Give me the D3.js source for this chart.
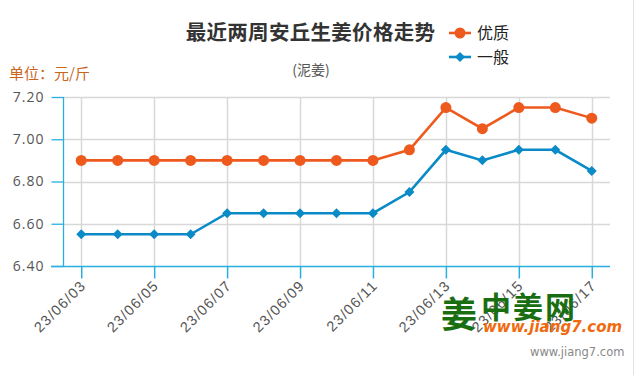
<!DOCTYPE html>
<html><head><meta charset="utf-8">
<script src="https://cdn.jsdelivr.net/npm/d3@7/dist/d3.min.js"></script>
<style>
html,body{margin:0;padding:0;background:#fff;}
svg{display:block;font-family:"Open Sans","Noto Sans CJK SC",sans-serif;}
</style></head>
<body><svg id="c" width="635" height="375"></svg>
<script>
const dates = ["23/06/03","23/06/04","23/06/05","23/06/06","23/06/07","23/06/08","23/06/09","23/06/10","23/06/11","23/06/12","23/06/13","23/06/14","23/06/15","23/06/16","23/06/17"];
const premium = [6.90,6.90,6.90,6.90,6.90,6.90,6.90,6.90,6.90,6.95,7.15,7.05,7.15,7.15,7.10];
const normal = [6.55,6.55,6.55,6.55,6.65,6.65,6.65,6.65,6.65,6.75,6.95,6.90,6.95,6.95,6.85];
const yTicks = [6.40,6.60,6.80,7.00,7.20];
const xTickLabels = ["23/06/03","23/06/05","23/06/07","23/06/09","23/06/11","23/06/13","23/06/15","23/06/17"];
const seriesNames = ["优质","一般"];

const svg = d3.select("#c");
const L = 63, R = 610, T = 97, B = 266;
const orange = "#ee5a1e", blue = "#0a8ac6", axisBlue = "#2aaee0", grid = "#d8d8d8";

const x = d3.scalePoint().domain(dates).range([L, R]).padding(0.5);
const y = d3.scaleLinear().domain([6.40, 7.20]).range([B, T]);

// right page border
svg.append("line").attr("x1",633.5).attr("x2",633.5).attr("y1",0).attr("y2",375).attr("stroke","#e2e2e2");

// horizontal grid
svg.append("g").selectAll("line").data(yTicks.slice(1)).join("line")
  .attr("x1",L).attr("x2",R).attr("y1",d=>Math.round(y(d))+0.5).attr("y2",d=>Math.round(y(d))+0.5)
  .attr("stroke",grid).attr("stroke-width",1.5);
// vertical grid
svg.append("g").selectAll("line").data(xTickLabels).join("line")
  .attr("x1",d=>Math.round(x(d))+0.5).attr("x2",d=>Math.round(x(d))+0.5).attr("y1",T).attr("y2",B)
  .attr("stroke",grid).attr("stroke-width",1.5);

// y axis
const yAxis = d3.axisLeft(y).tickValues(yTicks).tickFormat(d3.format(".2f")).tickSize(12).tickPadding(7);
const ya = svg.append("g").attr("transform",`translate(${L+0.5},0)`).call(yAxis);
ya.select(".domain").attr("stroke",axisBlue).attr("stroke-width",1.3).attr("d",`M0,${T}V${B}`);
ya.selectAll(".tick line").attr("stroke",axisBlue).attr("stroke-width",1.3);
ya.selectAll(".tick text").attr("fill","#555").style("font-size","14px").style("letter-spacing","1px").attr("font-family","Open Sans, sans-serif");

// x axis
const xAxis = d3.axisBottom(x).tickValues(xTickLabels).tickSize(12).tickSizeOuter(0);
const xa = svg.append("g").attr("transform",`translate(0,${B+0.5})`).call(xAxis);
xa.select(".domain").attr("stroke",axisBlue).attr("stroke-width",1.5).attr("d",`M${L-12},0H${R}`);
xa.selectAll(".tick line").attr("stroke",axisBlue).attr("stroke-width",1.5);
xa.selectAll(".tick text").attr("fill","#555").style("font-size","14.5px").style("letter-spacing","1.2px")
  .attr("text-anchor","end").attr("dy",null).attr("y",0)
  .attr("transform","translate(5,20) rotate(-45)");

// lines
const line = d3.line().x((d,i)=>x(dates[i])).y(d=>y(d));
svg.append("path").datum(normal).attr("d",line).attr("fill","none").attr("stroke",blue).attr("stroke-width",2.6);
svg.append("path").datum(premium).attr("d",line).attr("fill","none").attr("stroke",orange).attr("stroke-width",2.6);

svg.append("g").selectAll("path").data(normal).join("path")
  .attr("d", d3.symbol().type(d3.symbolSquare).size(50))
  .attr("transform",(d,i)=>`translate(${x(dates[i])},${y(d)}) rotate(45)`).attr("fill",blue);
svg.append("g").selectAll("circle").data(premium).join("circle")
  .attr("cx",(d,i)=>x(dates[i])).attr("cy",d=>y(d)).attr("r",5.5).attr("fill",orange);

// title
svg.append("text").attr("x",310.5).attr("y",40).attr("text-anchor","middle")
  .style("font-size","20.5px").style("font-weight","bold").attr("fill","#333").style("letter-spacing","0.3px")
  .style("font-family","Noto Sans CJK SC").text("最近两周安丘生姜价格走势");
svg.append("text").attr("x",311).attr("y",75).attr("text-anchor","middle")
  .style("font-size","14px").attr("fill","#555").style("font-family","Noto Sans CJK SC").text("(泥姜)");
svg.append("text").attr("x",9).attr("y",79)
  .style("font-size","15px").attr("fill","#c8661e").style("font-family","Noto Sans CJK SC").text("单位：元/斤");

// legend
const lg = svg.append("g");
[[orange,33,"c"],[blue,57,"d"]].forEach((s,i)=>{
  lg.append("line").attr("x1",449).attr("x2",471).attr("y1",s[1]).attr("y2",s[1]).attr("stroke",s[0]).attr("stroke-width",2.6);
  if(s[2]==="c") lg.append("circle").attr("cx",460).attr("cy",s[1]).attr("r",5.5).attr("fill",s[0]);
  else lg.append("path").attr("d",d3.symbol().type(d3.symbolSquare).size(50)).attr("transform",`translate(460,${s[1]}) rotate(45)`).attr("fill",s[0]);
  lg.append("text").attr("x",477).attr("y",s[1]+6).style("font-size","16px").attr("fill","#222")
    .style("font-family","Noto Sans CJK SC").text(seriesNames[i]);
});

// watermark logo
const wm = svg.append("g");
wm.append("text").attr("x",441).attr("y",328).style("font-size","36px").style("font-weight","bold")
  .attr("fill","#1a6e12").style("font-family","Noto Sans CJK SC").text("姜");
wm.append("text").attr("x",481).attr("y",318).style("font-size","30px").style("font-weight","bold")
  .attr("fill","#1a6e12").style("font-family","Noto Sans CJK SC").style("letter-spacing","2px").text("中姜网");
wm.append("text").attr("x",483).attr("y",332).style("font-size","15px").style("font-weight","bold").style("font-style","italic")
  .attr("fill","#f06a10").style("font-family","DejaVu Sans").text("www.jiang7.com");
svg.append("text").attr("x",530).attr("y",356).style("font-size","11.5px")
  .attr("fill","#888").style("font-family","DejaVu Sans").text("www.jiang7.com");
</script></body></html>
